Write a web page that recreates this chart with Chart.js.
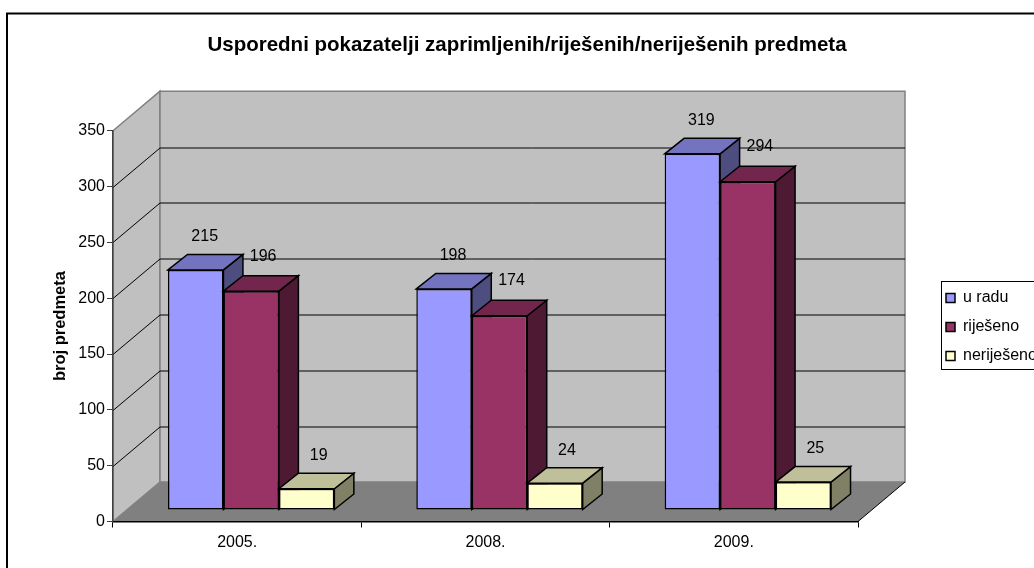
<!DOCTYPE html>
<html>
<head>
<meta charset="utf-8">
<title>Usporedni pokazatelji</title>
<script src="https://cdn.jsdelivr.net/npm/chart.js@4"></script>
<style>
	html, body { margin: 0; padding: 0; background: #fff; }
	#wrap { width: 1034px; height: 568px; overflow: hidden; }
</style>
</head>
<body>
<div id="wrap"><canvas id="chart" width="1034" height="568"></canvas></div>
<script>
/* podaci */
const categories = ['2005.', '2008.', '2009.'];
const seriesNames = ['u radu', 'riješeno', 'neriješeno'];
const uRadu = [215, 198, 319];
const rijeseno = [196, 174, 294];
const nerijeseno = [19, 24, 25];
const yTicks = [0, 50, 100, 150, 200, 250, 300, 350];

/* boje: prednja, gornja, bocna strana */
const frontColors = ['#9999ff', '#993366', '#ffffcc'];
const topColors = ['#7373bf', '#73264d', '#bfbf99'];
const sideColors = ['#4d4d80', '#4d1933', '#808066'];

/* pomak zida i stupca (3D) */
const WALL_DX = 47, WALL_DY = 39.5;
const BAR_DX = 14, BAR_DY = 11.5;
const DEPTH_DX = 19.5, DEPTH_DY = 15.5;
const LABEL_DX = [9, 12, 12], LABEL_DY = [33, 35, 33];

function poly(ctx, pts, fill, stroke, lw) {
	ctx.beginPath();
	ctx.moveTo(pts[0][0], pts[0][1]);
	for (let i = 1; i < pts.length; i++) ctx.lineTo(pts[i][0], pts[i][1]);
	ctx.closePath();
	if (fill) { ctx.fillStyle = fill; ctx.fill(); }
	if (stroke) { ctx.strokeStyle = stroke; ctx.lineWidth = lw || 1; ctx.stroke(); }
}

/* okvir, zidovi i pod */
const walls = {
	id: 'walls',
	beforeDraw(chart) {
		const ctx = chart.ctx, a = chart.chartArea, y = chart.scales.y;
		const l = a.left, r = a.right, t = a.top, b = a.bottom;
		ctx.save();
		ctx.fillStyle = '#fff';
		ctx.fillRect(0, 0, chart.width, chart.height);
		ctx.strokeStyle = '#000';
		ctx.lineWidth = 2;
		ctx.strokeRect(7, 13.5, chart.width + 10, chart.height + 10);

		poly(ctx, [[l, t], [l + WALL_DX, t - WALL_DY], [l + WALL_DX, b - WALL_DY], [l, b]], '#c0c0c0', '#808080', 1.5);
		poly(ctx, [[l + WALL_DX, t - WALL_DY], [r + WALL_DX, t - WALL_DY], [r + WALL_DX, b - WALL_DY], [l + WALL_DX, b - WALL_DY]], '#c0c0c0', '#808080', 1.5);
		poly(ctx, [[l, b], [l + WALL_DX, b - WALL_DY], [r + WALL_DX, b - WALL_DY], [r, b]], '#808080');

		ctx.strokeStyle = '#000';
		ctx.lineWidth = 1;
		yTicks.forEach(function(v) {
			if (v === 0 || v === 350) return;
			const py = Math.round(y.getPixelForValue(v)) + 0.5;
			ctx.beginPath();
			ctx.moveTo(l, py);
			ctx.lineTo(l + WALL_DX, py - WALL_DY);
			ctx.lineTo(r + WALL_DX, py - WALL_DY);
			ctx.stroke();
		});
		ctx.beginPath();
		ctx.moveTo(r, b);
		ctx.lineTo(r + WALL_DX, b - WALL_DY);
		ctx.stroke();
		ctx.restore();
	}
};

/* stupci: pomak u dubinu, gornja i bocna strana, crtaju se redom serija */
const bars3d = {
	id: 'bars3d',
	beforeDatasetDraw() {
		return false;
	},
	afterDatasetsDraw(chart) {
		const ctx = chart.ctx;
		chart.data.datasets.forEach(function(ds, i) {
			const meta = chart.getDatasetMeta(i);
			ctx.save();
			ctx.translate(BAR_DX, -BAR_DY);
			meta.controller.draw();
			meta.data.forEach(function(bar) {
				const x0 = bar.x - bar.width / 2, x1 = bar.x + bar.width / 2;
				poly(ctx, [[x1, bar.y], [x1 + DEPTH_DX, bar.y - DEPTH_DY], [x1 + DEPTH_DX, bar.base - DEPTH_DY], [x1, bar.base]], sideColors[i], '#000', 1.5);
				poly(ctx, [[x0, bar.y], [x0 + DEPTH_DX, bar.y - DEPTH_DY], [x1 + DEPTH_DX, bar.y - DEPTH_DY], [x1, bar.y]], topColors[i], '#000', 1.5);
			});
			ctx.restore();
		});

		/* vrijednosti iznad stupaca */
		ctx.save();
		ctx.font = '16px "Liberation Sans"';
		ctx.fillStyle = '#000';
		ctx.textAlign = 'center';
		ctx.textBaseline = 'middle';
		chart.data.datasets.forEach(function(ds, i) {
			chart.getDatasetMeta(i).data.forEach(function(bar, j) {
				ctx.fillText(ds.data[j], bar.x + BAR_DX + LABEL_DX[i], bar.y - BAR_DY - LABEL_DY[i]);
			});
		});
		ctx.restore();
	}
};

/* naslov i legenda na mjesto, okvir legende */
const placement = {
	id: 'placement',
	afterLayout(chart) {
		const lg = chart.legend;
		const w = lg.width, h = lg.height;
		lg.left = 933; lg.right = 933 + w;
		lg.top = 277; lg.bottom = 277 + h;
		chart.titleBlock.left = 0;
		chart.titleBlock.right = 1054;
	},
	beforeDatasetsDraw(chart) {
		const ctx = chart.ctx;
		ctx.save();
		ctx.strokeStyle = '#000';
		ctx.lineWidth = 1;
		ctx.strokeRect(941.5, 281.5, 200, 88);
		ctx.restore();
	}
};

const dataSeries = [uRadu, rijeseno, nerijeseno];

new Chart(document.getElementById('chart'), {
	type: 'bar',
	data: {
		labels: categories,
		datasets: dataSeries.map(function(vals, i) {
			return {
				label: seriesNames[i],
				data: vals,
				backgroundColor: frontColors[i],
				borderColor: '#000',
				borderWidth: 1.5,
				borderSkipped: false,
				categoryPercentage: 0.67,
				barPercentage: 1,
				clip: false
			};
		})
	},
	plugins: [walls, bars3d, placement],
	options: {
		responsive: false,
		animation: false,
		layout: { padding: { left: 0, right: 176, top: 0, bottom: 0 } },
		plugins: {
			title: {
				display: true,
				text: 'Usporedni pokazatelji zaprimljenih/riješenih/neriješenih predmeta',
				color: '#000',
				font: { family: '"Liberation Sans"', size: 20.5, weight: 'bold', lineHeight: 1.2 },
				padding: { top: 33.5, bottom: 72.6 }
			},
			legend: {
				display: true,
				position: 'chartArea',
				align: 'start',
				labels: {
					color: '#000',
					boxWidth: 9,
					boxHeight: 9,
					padding: 13,
					font: { family: '"Liberation Sans"', size: 16 }
				}
			},
			tooltip: { enabled: false }
		},
		scales: {
			x: {
				afterFit: function(s) { s.height = 46.5; },
				grid: { drawOnChartArea: false, drawTicks: true, tickLength: 6, color: '#000' },
				border: { color: '#000', width: 1.5 },
				ticks: { color: '#000', padding: 5, maxRotation: 0, font: { family: '"Liberation Sans"', size: 16 } }
			},
			y: {
				min: 0,
				max: 350,
				afterFit: function(s) { s.width = 113; },
				afterBuildTicks: function(s) { s.ticks = yTicks.map(function(v) { return { value: v }; }); },
				grid: { drawOnChartArea: false, drawTicks: true, tickLength: 6, color: '#404040' },
				border: { color: '#404040', width: 1.5 },
				ticks: { color: '#000', padding: 2, font: { family: '"Liberation Sans"', size: 16 } },
				title: {
					display: true,
					text: 'broj predmeta',
					color: '#000',
					font: { family: '"Liberation Sans"', size: 16.5, weight: 'bold', lineHeight: 1.2 },
					padding: { top: 51, bottom: 0 }
				}
			}
		}
	}
});
</script>
</body>
</html>
